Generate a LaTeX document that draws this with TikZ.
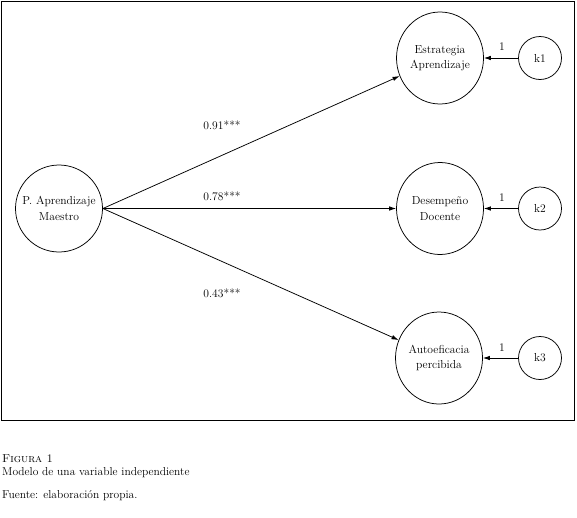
\documentclass[tikz,border=0pt]{standalone}
\usetikzlibrary{arrows.meta,shapes.geometric}
\begin{document}
\begin{tikzpicture}[x=1pt,y=-1pt,
  lat/.style={draw,ellipse,minimum width=87pt,minimum height=92pt,inner sep=-14pt,align=center,font=\fontsize{11.6}{15.5}\selectfont,line width=0.75pt},
  err/.style={draw,circle,minimum size=43pt,inner sep=0pt,font=\fontsize{11.6}{12}\selectfont,line width=0.75pt},
  conn/.style={line width=0.75pt,-{Latex[length=7pt,width=4.5pt]}},
  lbl/.style={font=\fontsize{11.6}{12}\selectfont,inner sep=0pt},
  captxt/.style={font=\fontsize{11.5}{12}\selectfont,anchor=base west,inner sep=0pt}]
\useasboundingbox (0,0) rectangle (577,517);
\draw[line width=0.8pt] (1,1) rectangle (574,420);
\node[lat,minimum width=87pt,minimum height=87pt] (P) at (59,208.5) {P. Aprendizaje\\Maestro};
\node[lat] (E) at (440,58) {Estrategia\\Aprendizaje};
\node[lat] (D) at (440,208.5) {Desempeño\\Docente};
\node[lat] (A) at (439,358) {Autoeficacia\\percibida};
\node[err] (k1) at (540,58) {k1};
\node[err] (k2) at (540,208.5) {k2};
\node[err] (k3) at (540,358) {k3};
\draw[conn] (P.east) -- (E);
\draw[conn] (P.east) -- (D);
\draw[conn] (P.east) -- (A);
\draw[conn] (k1) -- (E);
\draw[conn] (k2) -- (D);
\draw[conn] (k3) -- (A);
\node[lbl] (l1) at (222,125) {0.91***};
\node[lbl] (l2) at (222,196) {0.78***};
\node[lbl] (l3) at (222,293) {0.43***};
\node[lbl] (m1) at (502,47) {1};
\node[lbl] (m2) at (502,198) {1};
\node[lbl] (m3) at (502,348) {1};
\node[captxt] (c1) at (2,462) {\textsc{Figura 1}};
\node[captxt] (c2) at (2,475) {Modelo de una variable independiente};
\node[captxt] (c3) at (2,498) {Fuente: elaboración propia.};
\end{tikzpicture}
\end{document}
